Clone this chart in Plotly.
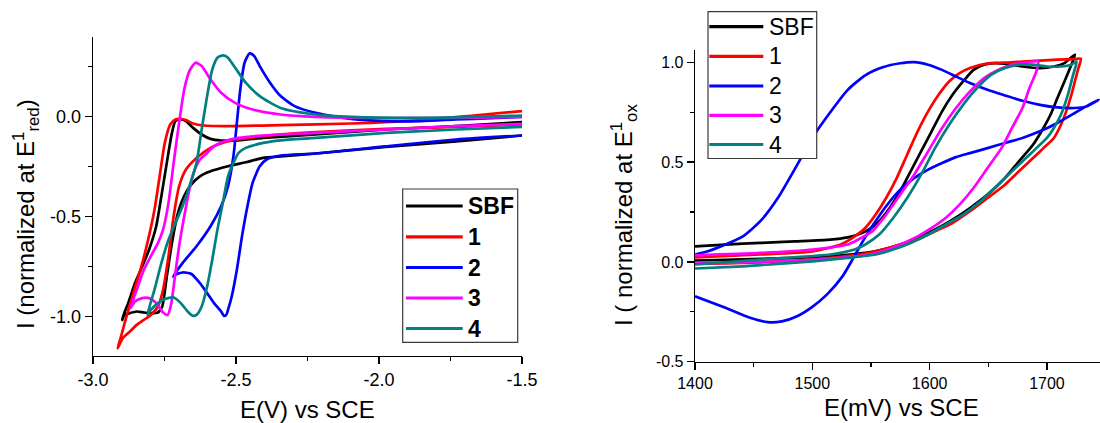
import plotly.graph_objects as go

W, H = 1100, 423
FONT = "Liberation Sans, Arial, sans-serif"

# ---------------- data: left panel (reduction, E in V vs SCE) ----------------
series_names = ["SBF", "1", "2", "3", "4"]
series_colors = ["#000000", "#FF0000", "#0000FF", "#FF00FF", "#008080"]

sbf_red_x = [-1.500, -1.730, -1.976, -2.221, -2.344, -2.405, -2.466, -2.528, -2.589, -2.626, -2.657, -2.687,
             -2.706, -2.724, -2.742, -2.758, -2.773, -2.798, -2.822, -2.847, -2.871, -2.890, -2.898,
             -2.890, -2.877, -2.853, -2.828, -2.804, -2.779, -2.761, -2.742, -2.724, -2.712, -2.693, -2.675,
             -2.650, -2.620, -2.589, -2.552, -2.491, -2.405, -2.221, -1.976, -1.730, -1.500]
sbf_red_y = [-0.095, -0.124, -0.152, -0.185, -0.199, -0.207, -0.229, -0.249, -0.274, -0.299, -0.341, -0.416,
             -0.499, -0.633, -0.800, -0.950, -0.980, -0.983, -0.980, -0.975, -0.983, -0.992, -1.017,
             -0.980, -0.933, -0.833, -0.750, -0.666, -0.549, -0.399, -0.232, -0.082, -0.023, -0.015, -0.023,
             -0.057, -0.090, -0.112, -0.120, -0.119, -0.107, -0.090, -0.065, -0.048, -0.028]

c1_red_x = [-1.500, -1.730, -1.976, -2.221, -2.405, -2.491, -2.540, -2.589, -2.638, -2.675, -2.699, -2.718,
            -2.736, -2.755, -2.773, -2.798, -2.822, -2.847, -2.871, -2.896, -2.914,
            -2.902, -2.883, -2.859, -2.834, -2.810, -2.785, -2.767, -2.749, -2.730, -2.712, -2.693, -2.675,
            -2.650, -2.614, -2.528, -2.344, -2.098, -1.853, -1.669, -1.500]
c1_red_y = [-0.040, -0.052, -0.062, -0.078, -0.098, -0.115, -0.129, -0.157, -0.207, -0.265, -0.349, -0.499,
            -0.699, -0.866, -0.950, -0.992, -1.017, -1.042, -1.075, -1.108, -1.159,
            -1.100, -1.000, -0.883, -0.766, -0.633, -0.466, -0.299, -0.132, -0.040, -0.015, -0.012, -0.018,
            -0.035, -0.045, -0.048, -0.043, -0.035, -0.018, 0.005, 0.027]

c2_red_x = [-1.500, -1.730, -1.976, -2.221, -2.344, -2.393, -2.417, -2.442, -2.460, -2.479, -2.497, -2.515,
            -2.528, -2.534, -2.542, -2.552, -2.577, -2.601, -2.626, -2.657, -2.687, -2.712, -2.720,
            -2.687, -2.638, -2.589, -2.552, -2.528, -2.509, -2.497, -2.485, -2.470, -2.452, -2.436, -2.417,
            -2.381, -2.344, -2.295, -2.221, -2.098, -1.976, -1.853, -1.730, -1.608, -1.500]
c2_red_y = [-0.095, -0.115, -0.149, -0.185, -0.195, -0.215, -0.249, -0.332, -0.449, -0.599, -0.766, -0.900,
            -0.967, -0.992, -0.997, -0.975, -0.933, -0.883, -0.833, -0.786, -0.780, -0.791, -0.800,
            -0.733, -0.649, -0.549, -0.449, -0.349, -0.199, -0.032, 0.135, 0.269, 0.316, 0.302, 0.252,
            0.169, 0.102, 0.052, 0.018, -0.012, -0.023, -0.023, -0.015, -0.008, -0.002]

c3_red_x = [-1.500, -1.730, -1.976, -2.221, -2.405, -2.491, -2.540, -2.577, -2.601, -2.626, -2.644, -2.663,
            -2.681, -2.699, -2.715, -2.726, -2.739, -2.755, -2.779, -2.804, -2.828, -2.853, -2.869,
            -2.847, -2.822, -2.798, -2.773, -2.755, -2.736, -2.718, -2.699, -2.681, -2.663, -2.642, -2.620,
            -2.589, -2.552, -2.503, -2.442, -2.344, -2.221, -1.976, -1.730, -1.500]
c3_red_y = [-0.037, -0.048, -0.065, -0.082, -0.095, -0.107, -0.124, -0.149, -0.182, -0.215, -0.265, -0.366,
            -0.499, -0.649, -0.816, -0.933, -0.992, -0.980, -0.933, -0.908, -0.908, -0.925, -0.958,
            -0.866, -0.766, -0.699, -0.633, -0.566, -0.432, -0.232, -0.032, 0.135, 0.227, 0.269, 0.252,
            0.185, 0.119, 0.068, 0.035, 0.010, -0.002, -0.008, -0.007, -0.002]

c4_red_x = [-1.500, -1.730, -1.976, -2.221, -2.344, -2.405, -2.466, -2.491, -2.509, -2.528, -2.546, -2.565,
            -2.583, -2.601, -2.620, -2.638, -2.650, -2.669, -2.693, -2.718, -2.749, -2.773, -2.798, -2.810,
            -2.785, -2.761, -2.736, -2.712, -2.687, -2.663, -2.638, -2.620, -2.601, -2.583, -2.565, -2.544,
            -2.528, -2.503, -2.466, -2.417, -2.344, -2.221, -2.098, -1.853, -1.500]
c4_red_y = [-0.052, -0.065, -0.082, -0.107, -0.119, -0.132, -0.157, -0.182, -0.232, -0.299, -0.432, -0.566,
            -0.716, -0.850, -0.950, -0.992, -0.997, -0.975, -0.933, -0.905, -0.913, -0.933, -0.967, -0.992,
            -0.866, -0.733, -0.616, -0.533, -0.449, -0.349, -0.232, -0.065, 0.102, 0.235, 0.294, 0.306,
            0.294, 0.244, 0.169, 0.102, 0.043, 0.010, -0.002, -0.007, 0.005]

# ---------------- data: right panel (oxidation, E in mV vs SCE) ----------------
sbf_ox_x = [1400, 1425.9, 1455.7, 1485.5, 1515.3, 1545.1, 1560.0, 1574.9, 1589.8, 1604.6, 1619.5, 1634.4,
            1649.3, 1664.2, 1676.1, 1688.1, 1697.0, 1703.0, 1708.9, 1714.9, 1720.8, 1723.8,
            1714.9, 1705.9, 1694.0, 1679.1, 1664.2, 1655.3, 1646.4, 1637.4, 1628.5, 1619.5, 1610.6, 1601.7,
            1592.7, 1583.8, 1574.9, 1565.9, 1557.0, 1548.0, 1539.1, 1530.2, 1515.3, 1485.5, 1455.7, 1425.9, 1400]
sbf_ox_y = [0.007, 0.010, 0.015, 0.020, 0.028, 0.045, 0.062, 0.087, 0.120, 0.162, 0.212, 0.270,
            0.337, 0.420, 0.504, 0.587, 0.671, 0.737, 0.821, 0.904, 0.988, 1.038,
            0.996, 0.979, 0.971, 0.979, 0.993, 0.996, 0.988, 0.962, 0.904, 0.837, 0.754, 0.654,
            0.554, 0.454, 0.354, 0.270, 0.204, 0.162, 0.137, 0.123, 0.112, 0.103, 0.095, 0.087, 0.078]

c1_ox_x = [1400, 1425.9, 1455.7, 1485.5, 1515.3, 1545.1, 1560.0, 1574.9, 1589.8, 1604.6, 1619.5, 1634.4,
           1649.3, 1664.2, 1676.1, 1688.1, 1697.0, 1705.9, 1711.9, 1716.4, 1720.8, 1723.8, 1726.8, 1728.9,
           1723.8, 1708.9, 1694.0, 1679.1, 1664.2, 1652.3, 1643.4, 1634.4, 1625.5, 1616.6, 1607.6, 1598.7,
           1589.8, 1580.8, 1571.9, 1562.9, 1554.0, 1545.1, 1536.1, 1524.2, 1500.4, 1455.7, 1400]
c1_ox_y = [-0.010, -0.007, -0.002, 0.007, 0.020, 0.042, 0.062, 0.087, 0.112, 0.153, 0.195, 0.254,
           0.320, 0.387, 0.454, 0.520, 0.570, 0.621, 0.687, 0.754, 0.837, 0.904, 0.971, 1.018,
           1.016, 1.013, 1.008, 1.004, 0.998, 0.996, 0.988, 0.971, 0.946, 0.904, 0.837, 0.754,
           0.654, 0.537, 0.420, 0.320, 0.237, 0.170, 0.128, 0.087, 0.053, 0.037, 0.023]

c2_ox_x = [1400, 1411.0, 1425.9, 1440.8, 1455.7, 1470.6, 1485.5, 1500.4, 1515.3, 1530.2, 1545.1, 1560.0,
           1574.9, 1586.8, 1598.7, 1610.6, 1622.5, 1634.4, 1649.3, 1664.2, 1679.1, 1694.0, 1708.9, 1723.8,
           1732.7, 1744.1,
           1735.7, 1723.8, 1708.9, 1694.0, 1679.1, 1664.2, 1649.3, 1634.4, 1622.5, 1610.6, 1598.7, 1586.8,
           1574.9, 1562.9, 1552.0, 1543.0, 1535.0, 1526.0, 1513.0, 1500.0, 1487.0, 1474.0, 1462.0, 1447.0,
           1425.9, 1400]
c2_ox_y = [0.037, 0.053, 0.087, 0.128, 0.204, 0.320, 0.470, 0.625, 0.750, 0.862, 0.935, 0.975,
           0.995, 1.001, 0.988, 0.962, 0.929, 0.896, 0.862, 0.834, 0.807, 0.787, 0.774, 0.771,
           0.777, 0.812,
           0.787, 0.746, 0.696, 0.654, 0.621, 0.596, 0.570, 0.545, 0.525, 0.495, 0.462, 0.420,
           0.362, 0.279, 0.187, 0.103, 0.020, -0.070, -0.160, -0.225, -0.272, -0.298, -0.302, -0.280,
           -0.230, -0.172]

c3_ox_x = [1400, 1425.9, 1455.7, 1485.5, 1515.3, 1545.1, 1560.0, 1574.9, 1589.8, 1601.7, 1613.6, 1625.5,
           1637.4, 1649.3, 1661.2, 1670.2, 1679.1, 1685.1, 1691.0, 1692.5,
           1682.1, 1670.2, 1658.3, 1646.4, 1634.4, 1622.5, 1610.6, 1598.7, 1586.8, 1574.9, 1562.9, 1551.0,
           1539.1, 1530.2, 1500.4, 1455.7, 1400]
c3_ox_y = [-0.005, -0.005, 0.000, 0.007, 0.017, 0.033, 0.053, 0.087, 0.128, 0.170, 0.220, 0.287,
           0.370, 0.470, 0.570, 0.671, 0.771, 0.871, 0.954, 1.004,
           0.999, 0.988, 0.962, 0.921, 0.854, 0.771, 0.671, 0.554, 0.437, 0.337, 0.237, 0.153,
           0.112, 0.087, 0.062, 0.045, 0.033]

c4_ox_x = [1400, 1440.8, 1470.6, 1500.4, 1530.2, 1554.0, 1568.9, 1583.8, 1598.7, 1613.6, 1628.5, 1643.4,
           1658.3, 1670.2, 1682.1, 1691.0, 1700.0, 1705.9, 1711.9, 1717.8, 1722.3, 1725.3,
           1720.8, 1711.9, 1700.0, 1688.1, 1676.1, 1664.2, 1652.3, 1640.4, 1628.5, 1616.6, 1604.6, 1592.7,
           1580.8, 1568.9, 1557.0, 1545.1, 1536.1, 1515.3, 1455.7, 1400]
c4_ox_y = [-0.033, -0.022, -0.010, 0.003, 0.020, 0.037, 0.062, 0.095, 0.137, 0.187, 0.237, 0.304,
           0.387, 0.454, 0.520, 0.570, 0.621, 0.671, 0.737, 0.837, 0.937, 1.004,
           0.988, 0.979, 0.979, 0.988, 0.988, 0.971, 0.937, 0.871, 0.787, 0.687, 0.570, 0.437,
           0.320, 0.220, 0.137, 0.087, 0.062, 0.037, 0.012, -0.013]

# ---------------- tick labels ----------------
left_xticks = [-3.0, -2.5, -2.0, -1.5]
left_xtick_text = ["-3.0", "-2.5", "-2.0", "-1.5"]
left_xminor = [-2.75, -2.25, -1.75]
left_yticks = [-1.0, -0.5, 0.0]
left_ytick_text = ["-1.0", "-0.5", "0.0"]
left_yminor = [-0.75, -0.25, 0.25]
right_xticks = [1400, 1500, 1600, 1700]
right_xtick_text = ["1400", "1500", "1600", "1700"]
right_xminor = [1450, 1550, 1650]
right_yticks = [-0.5, 0.0, 0.5, 1.0]
right_ytick_text = ["-0.5", "0.0", "0.5", "1.0"]
right_yminor = [-0.25, 0.25, 0.75]

left_series = [(sbf_red_x, sbf_red_y), (c1_red_x, c1_red_y), (c2_red_x, c2_red_y),
               (c3_red_x, c3_red_y), (c4_red_x, c4_red_y)]
right_series = [(sbf_ox_x, sbf_ox_y), (c1_ox_x, c1_ox_y), (c2_ox_x, c2_ox_y),
                (c3_ox_x, c3_ox_y), (c4_ox_x, c4_ox_y)]


def X(p):
    return p / W


def Y(p):
    return 1 - p / H


fig = go.Figure()
for (xs, ys), col in zip(left_series, series_colors):
    fig.add_trace(go.Scatter(x=xs, y=ys, mode="lines", xaxis="x", yaxis="y", showlegend=False,
                             hoverinfo="skip",
                             line=dict(color=col, width=2.7, shape="spline", smoothing=0.6)))
for (xs, ys), col in zip(right_series, series_colors):
    fig.add_trace(go.Scatter(x=xs, y=ys, mode="lines", xaxis="x2", yaxis="y2", showlegend=False,
                             hoverinfo="skip",
                             line=dict(color=col, width=2.7, shape="spline", smoothing=0.6)))


def axis(domain, rng, tv, tt, minor, anchor, fsize):
    return dict(domain=domain, range=rng, tickvals=tv, ticktext=tt, ticks="outside", ticklen=7,
                tickwidth=1.3, tickcolor="black", showline=True, linecolor="black", linewidth=1.3,
                showgrid=False, zeroline=False, tickfont=dict(family=FONT, size=fsize, color="black"),
                anchor=anchor, automargin=False, fixedrange=True,
                minor=dict(tickvals=minor, ticks="outside", ticklen=4, tickwidth=1.2,
                           tickcolor="black", showgrid=False))


fig.update_layout(
    width=W, height=H, margin=dict(l=0, r=0, t=0, b=0),
    paper_bgcolor="white", plot_bgcolor="white", template="none",
    xaxis=axis([X(93), X(522)], [-3.0, -1.5], left_xticks, left_xtick_text, left_xminor, "y", 18),
    yaxis=axis([Y(355.7), Y(36.7)], [-1.196, 0.399], left_yticks, left_ytick_text, left_yminor, "x", 18),
    xaxis2=axis([X(695), 1.0], [1400, 1745.2], right_xticks, right_xtick_text, right_xminor, "y2", 16),
    yaxis2=axis([Y(361.7), Y(50)], [-0.5, 1.0616], right_yticks, right_ytick_text, right_yminor, "x2", 16),
)

ann = []
shapes = []
title_font = dict(family=FONT, size=24, color="black")
# axis titles
ann.append(dict(text="E(V) vs SCE", x=X(307), y=Y(409), xref="paper", yref="paper",
                showarrow=False, xanchor="center", yanchor="middle", font=title_font))
ann.append(dict(text="E(mV) vs SCE", x=X(901), y=Y(407), xref="paper", yref="paper",
                showarrow=False, xanchor="center", yanchor="middle", font=title_font))
ann.append(dict(text="I (normalized at E<sup>1</sup><sub>red</sub>)", x=X(26), y=Y(214),
                xref="paper", yref="paper", showarrow=False, textangle=-90,
                xanchor="center", yanchor="middle", font=title_font))
ann.append(dict(text="I ( normalized at E<sup>1</sup><sub>ox</sub>", x=X(624), y=Y(215),
                xref="paper", yref="paper", showarrow=False, textangle=-90,
                xanchor="center", yanchor="middle", font=title_font))


# legends drawn as frame + line samples + labels (layout decoration)
def legend(box, rows, lx0, lx1, tx, bold):
    x0, y0, x1, y1 = box
    shapes.append(dict(type="rect", xref="paper", yref="paper", x0=X(x0), x1=X(x1), y0=Y(y1), y1=Y(y0),
                       line=dict(color="#3a3a3a", width=1.2), fillcolor="white", layer="above"))
    for ry, name, col in zip(rows, series_names, series_colors):
        shapes.append(dict(type="line", xref="paper", yref="paper", x0=X(lx0), x1=X(lx1), y0=Y(ry), y1=Y(ry),
                           line=dict(color=col, width=3.2), layer="above"))
        txt = "<b>%s</b>" % name if bold else name
        ann.append(dict(text=txt, x=X(tx), y=Y(ry), xref="paper", yref="paper", showarrow=False,
                        xanchor="left", yanchor="middle", font=dict(family=FONT, size=23, color="black")))


legend((402.7, 189, 517.7, 342.3), [206, 236.8, 267.5, 298, 328.5], 406, 462.7, 466, True)
legend((708, 11.7, 816.7, 158.5), [26.7, 56.3, 86, 115.3, 144.5], 709.3, 763.3, 767, False)

fig.update_layout(annotations=ann, shapes=shapes, hovermode=False)
fig.write_html("out.html", config={"displayModeBar": False, "staticPlot": True},
               post_script="document.body.style.margin='0px';document.body.style.overflow='hidden';")
